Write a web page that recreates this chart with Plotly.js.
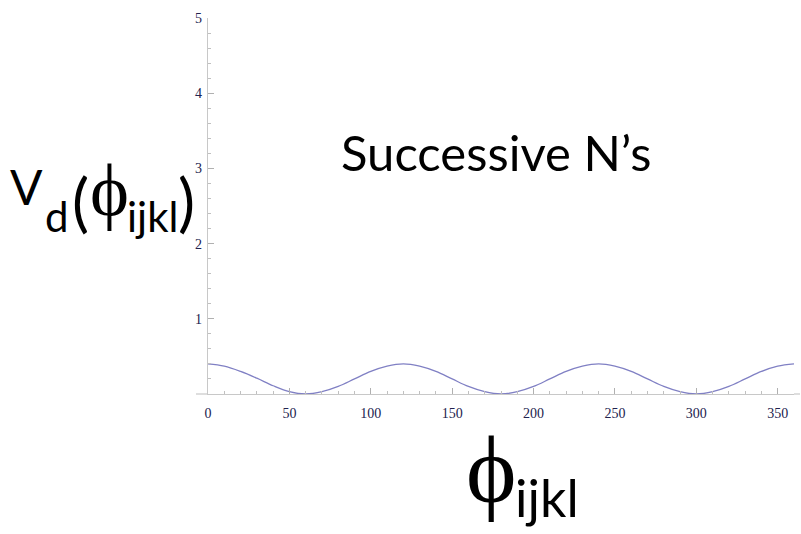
<!DOCTYPE html>
<html>
<head>
<meta charset="utf-8">
<script src="https://cdn.plot.ly/plotly-3.0.1.min.js"></script>
<style>html,body{margin:0;padding:0;background:#fff;}#chart{width:801px;height:534px;}</style>
</head>
<body>
<div id="chart"></div>
<script>
// Dihedral angle (degrees) and potential
const phi = [0,10,20,30,40,50,60,70,80,90,100,110,120,130,140,150,160,170,180,190,200,210,220,230,240,250,260,270,280,290,300,310,320,330,340,350,360];
const vd  = [0.40,0.37,0.30,0.21,0.11,0.03,0.00,0.03,0.10,0.20,0.30,0.37,0.40,0.37,0.30,0.20,0.10,0.03,0.00,0.03,0.10,0.20,0.30,0.37,0.40,0.37,0.30,0.20,0.10,0.03,0.00,0.03,0.10,0.20,0.30,0.37,0.40];
const xTicks = [0,50,100,150,200,250,300,350];
const yTicks = [1,2,3,4,5];
const annotationText = "Successive N\u2019s";

const W = 801, H = 534;
const M = {l:208, r:7, t:18, b:140};
const PW = W - M.l - M.r, PH = H - M.t - M.b;
const px = x => (x - M.l) / PW;
const py = y => (H - M.b - y) / PH;

const sans = "Lato, 'Open Sans', sans-serif";
const serif = "'Liberation Serif', 'DejaVu Serif', serif";

function ann(text, x, y, size, family, anchorX) {
  return {text:text, xref:'paper', yref:'paper', x:px(x), y:py(y), xanchor:anchorX||'left', yanchor:'middle',
          showarrow:false, borderpad:0, font:{family:family, size:size, color:'#000'}};
}

const annotations = [
  ann(annotationText, 496, 152, 49, sans, 'center'),
  // y label  V_d(ϕ_ijkl)
  ann("V", 9, 186, 48, sans),
  ann("d", 44, 216, 42, sans),
  ann("(", 71, 200, 64, sans),
  ann("\u03d5", 89, 190, 74, serif),
  ann("ijkl", 126, 216, 42, sans),
  ann(")", 177, 200, 64, sans),
  // x label ϕ_ijkl
  ann("\u03d5", 465, 469, 96, serif),
  ann("ijkl", 514, 497, 52, sans)
];

const trace = {
  x: phi, y: vd, type:'scatter', mode:'lines',
  line:{color:'#8080c4', width:1.3, shape:'spline', smoothing:1},
  hoverinfo:'skip'
};

const tickFont = {family:"'Liberation Serif', 'DejaVu Serif', serif", size:14, color:'#22224e'};

const layout = {
  width:W, height:H,
  margin:M,
  paper_bgcolor:'#fff', plot_bgcolor:'#fff',
  showlegend:false,
  xaxis:{range:[0,360], tickvals:xTicks, ticktext:xTicks.map(String), ticks:'inside', ticklen:6, tickwidth:1, tickcolor:'#b0b0b0',
         minor:{dtick:10, tick0:0, ticks:'inside', ticklen:3, tickcolor:'#c0c0c0'},
         showline:true, linecolor:'#c8c8c8', linewidth:1.2, showgrid:false, zeroline:false,
         tickfont:tickFont, ticklabelstandoff:6, fixedrange:true},
  yaxis:{range:[0,5], tickvals:yTicks, ticktext:yTicks.map(String), ticks:'inside', ticklen:6, tickwidth:1, tickcolor:'#b0b0b0',
         minor:{dtick:0.2, tick0:0, ticks:'inside', ticklen:3, tickcolor:'#c0c0c0'},
         showline:true, linecolor:'#c8c8c8', linewidth:1.2, showgrid:false, zeroline:false,
         tickfont:tickFont, ticklabelstandoff:2, fixedrange:true},
  shapes:[
    {type:'line', xref:'paper', yref:'paper', x0:px(196), x1:0, y0:0, y1:0, line:{color:'#c8c8c8', width:1.2}},
    {type:'line', xref:'paper', yref:'paper', x0:1, x1:px(800), y0:0, y1:0, line:{color:'#c8c8c8', width:1.2}}
  ],
  annotations:annotations
};

Plotly.newPlot('chart', [trace], layout, {staticPlot:true, displayModeBar:false});
</script>
</body>
</html>
